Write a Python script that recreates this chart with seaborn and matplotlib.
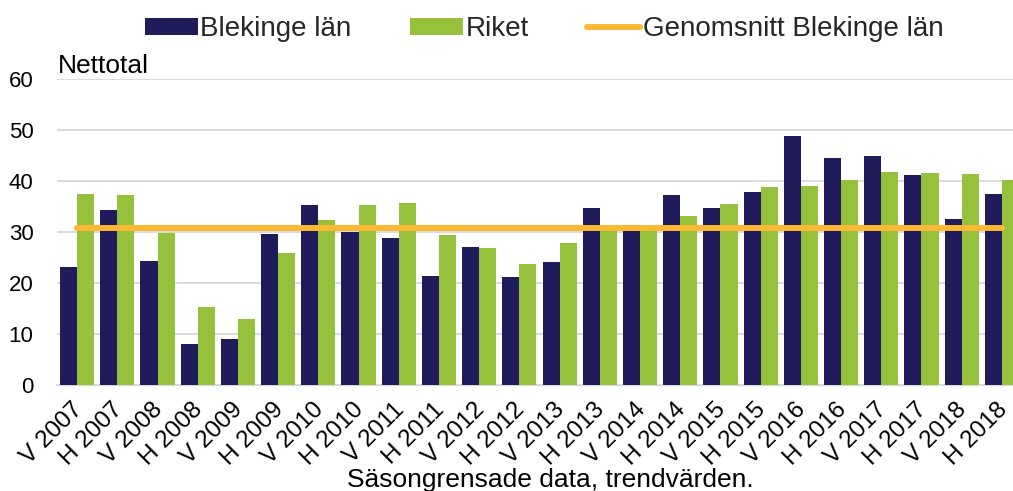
import numpy as np
import pandas as pd
import matplotlib
matplotlib.use("Agg")
import matplotlib.pyplot as plt
import matplotlib.transforms as mtransforms
import seaborn as sns
from matplotlib.patches import Patch
from matplotlib.lines import Line2D

periods = ["V 2007", "H 2007", "V 2008", "H 2008", "V 2009", "H 2009",
           "V 2010", "H 2010", "V 2011", "H 2011", "V 2012", "H 2012",
           "V 2013", "H 2013", "V 2014", "H 2014", "V 2015", "H 2015",
           "V 2016", "H 2016", "V 2017", "H 2017", "V 2018", "H 2018"]
blekinge = [23.1, 34.4, 24.4, 8.1, 9.1, 29.6, 35.2, 30.0, 28.8, 21.4, 27.0, 21.2,
            24.1, 34.8, 31.3, 37.2, 34.8, 37.8, 48.8, 44.6, 44.9, 41.2, 32.5, 37.4]
riket = [37.4, 37.3, 29.9, 15.2, 13.0, 25.8, 32.4, 35.3, 35.6, 29.4, 26.8, 23.8,
         27.8, 30.3, 31.1, 33.2, 35.4, 38.9, 39.1, 40.1, 41.8, 41.6, 41.4, 40.2]
snitt_blekinge = 30.8
series_names = ["Blekinge län", "Riket"]
avg_name = "Genomsnitt Blekinge län"
y_ticks = [0, 10, 20, 30, 40, 50, 60]

navy = "#201B5B"
green = "#95C13D"
orange = "#FBB832"
grid_c = "#D9D9D9"

df = pd.DataFrame({
    "period": periods * 2,
    "value": blekinge + riket,
    "serie": [series_names[0]] * len(periods) + [series_names[1]] * len(periods),
})

sns.set_theme(style="white")
plt.rcParams["font.family"] = ["Liberation Sans", "DejaVu Sans"]

W, H = 1013, 491
fig = plt.figure(figsize=(W / 100, H / 100), dpi=100)
ax = fig.add_axes([57 / W, 106 / H, 965 / W, 306 / H])

sns.barplot(data=df, x="period", y="value", hue="serie", order=periods,
            hue_order=series_names, palette=[navy, green], width=0.85,
            saturation=1, errorbar=None, ax=ax, legend=False, zorder=2,
            edgecolor="none", linewidth=0)

ax.plot(np.arange(len(periods)), [snitt_blekinge] * len(periods), color=orange,
        lw=4.3, solid_capstyle="round", zorder=3)

ax.set_xlim(-0.5, len(periods) - 0.5)
ax.set_ylim(0, 60)
ax.set_yticks(y_ticks)
ax.yaxis.grid(True, color=grid_c, lw=1.3, zorder=0)
ax.set_axisbelow(True)
for s in ["top", "right", "left"]:
    ax.spines[s].set_visible(False)
ax.spines["bottom"].set_color(grid_c)
ax.spines["bottom"].set_linewidth(1.6)
ax.spines["bottom"].set_zorder(1)
ax.tick_params(axis="y", length=0, pad=17, labelsize=16, labelcolor="black")
ax.tick_params(axis="x", length=0, pad=10, labelsize=17.5, labelcolor="black")
ax.set_xticks(np.arange(len(periods)))
ax.set_xticklabels(periods, rotation=45, ha="right", va="top",
                   rotation_mode="anchor")
shift = mtransforms.ScaledTranslation(-6 / 100, 0, fig.dpi_scale_trans)
for lab in ax.get_xticklabels():
    lab.set_transform(lab.get_transform() + shift)
ax.set_xlabel("")
ax.set_ylabel("")

fig.text(58 / W, 1 - 73 / H, "Nettotal", fontsize=19, va="baseline",
         ha="left", color="black")
fig.text(550 / W, 1 - 487 / H, "Säsongrensade data, trendvärden.",
         fontsize=19, va="baseline", ha="center", color="black")

handles = [Patch(facecolor=navy, edgecolor="none"),
           Patch(facecolor=green, edgecolor="none"),
           Line2D([0], [0], color=orange, lw=4.3, solid_capstyle="round")]
fig.legend(handles, series_names + [avg_name], loc="center",
           bbox_to_anchor=(544 / W, 1 - 29 / H), ncol=3, frameon=False,
           fontsize=20, handlelength=1.9, handleheight=0.55,
           handletextpad=0.1, columnspacing=2.1, borderaxespad=0,
           borderpad=0)

fig.savefig("out.png", dpi=100)
